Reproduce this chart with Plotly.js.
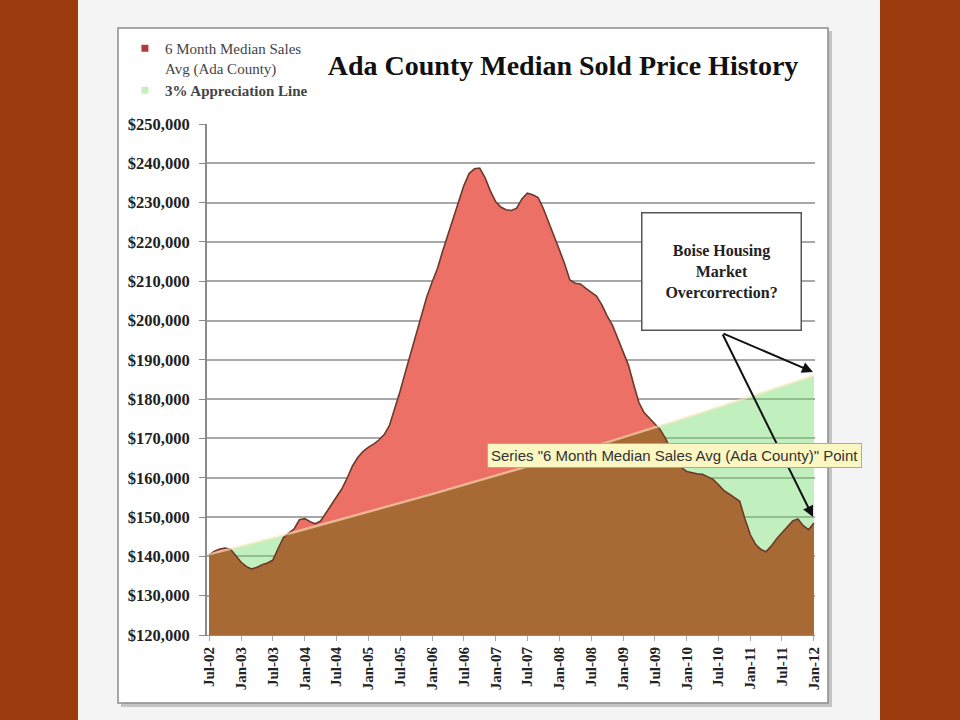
<!DOCTYPE html>
<html>
<head>
<meta charset="utf-8">
<script src="https://cdn.plot.ly/plotly-3.0.1.min.js"></script>
<style>
  html, body { margin: 0; padding: 0; background: #9b3a0c; }
  #chart { width: 960px; height: 720px; }
</style>
</head>
<body>
<div id="chart"></div>
<script>
// monthly series, Jul-02 .. Jan-12 (115 months)
var startYear = 2002, startMonth = 7, nMonths = 115;

var medianSales = [
  140400, 141300, 141900, 142100, 141800, 140200, 138500, 137400, 136800, 137200,
  137900, 138300, 139000, 142000, 144800, 145900, 147000, 149300, 149600, 148800,
  148300, 149000, 151000, 152800, 155000, 157200, 160000, 163000, 165200, 166700,
  167800, 168600, 169600, 171000, 173300, 177500, 182000, 187000, 191800, 196500,
  201300, 206000, 209800, 213300, 217500, 221600, 225600, 229800, 234200, 237400,
  238600, 238800, 236300, 233000, 230200, 228800, 228200, 228000, 228600, 231000,
  232400, 232000, 231300, 228500, 225000, 222000, 218000, 214300, 210300, 209500,
  209300, 208200, 207200, 206200, 204000, 201200, 198800, 195400, 192000, 188600,
  184000, 179200, 176600, 175200, 173800, 172300, 170000, 167200, 165000, 162600,
  161600, 161200, 161000, 160900, 160300, 159600, 158300, 156800, 155900, 155000,
  154000, 149500, 145500, 143000, 141800, 141200, 142600, 144500, 146000, 147600,
  149000, 149500, 147800, 146800, 148500
];

var appreciation = [
  140500, 140846, 141194, 141542, 141891, 142241, 142592, 142943, 143296, 143649, 144003, 144358,
  144715, 145072, 145430, 145788, 146148, 146508, 146869, 147232, 147595, 147959, 148324, 148689,
  149056, 149424, 149792, 150161, 150532, 150903, 151275, 151648, 152022, 152397, 152773, 153150,
  153528, 153907, 154286, 154667, 155048, 155431, 155814, 156198, 156583, 156969, 157357, 157745,
  158134, 158524, 158915, 159307, 159700, 160094, 160489, 160885, 161282, 161679, 162078, 162478,
  162878, 163280, 163682, 164086, 164491, 164897, 165303, 165711, 166120, 166529, 166940, 167352,
  167764, 168178, 168593, 169008, 169425, 169843, 170262, 170682, 171103, 171525, 171948, 172372,
  172797, 173223, 173650, 174079, 174508, 174938, 175370, 175802, 176236, 176671, 177106, 177543,
  177981, 178420, 178860, 179301, 179743, 180187, 180631, 181077, 181523, 181971, 182420, 182870,
  183320, 183772, 184226, 184680, 185135, 185592, 186049
];

var seriesNames = ['6 Month Median Sales<br>Avg (Ada County)', '<b>3% Appreciation Line</b>'];

var months = [];
for (var k = 0; k < nMonths; k++) {
  var m = startMonth - 1 + k;
  var yy = startYear + Math.floor(m / 12);
  var mm = (m % 12) + 1;
  months.push(yy + '-' + (mm < 10 ? '0' + mm : mm) + '-01');
}
// where both areas overlap Excel shows brown
var overlap = medianSales.map(function (v, k) { return Math.min(v, appreciation[k]); });

var serif = 'Liberation Serif, DejaVu Serif, serif';

var data = [
  {
    x: months, y: appreciation, type: 'scatter', mode: 'lines',
    fill: 'tozeroy', fillcolor: 'rgba(120,220,110,0.45)',
    line: {width: 0}, hoverinfo: 'skip', showlegend: false
  },
  {
    x: months, y: medianSales, type: 'scatter', mode: 'lines',
    fill: 'tozeroy', fillcolor: '#ec7066',
    line: {width: 0}, hoverinfo: 'skip', showlegend: false
  },
  {
    x: months, y: overlap, type: 'scatter', mode: 'lines',
    fill: 'tozeroy', fillcolor: '#a86a35',
    line: {width: 0}, hoverinfo: 'skip', showlegend: false
  },
  {
    x: months, y: medianSales, type: 'scatter', mode: 'lines',
    line: {color: '#6b3a2a', width: 1.6}, hoverinfo: 'skip', showlegend: false
  },
  {
    x: months, y: appreciation, type: 'scatter', mode: 'lines',
    line: {color: 'rgba(255,232,190,0.6)', width: 2.4}, hoverinfo: 'skip', showlegend: false
  },
  // legend entries
  {
    x: [null], y: [null], type: 'scatter', mode: 'markers', name: seriesNames[0],
    marker: {symbol: 'square', size: 7, color: '#b5383a'}, legendrank: 1
  },
  {
    x: [null], y: [null], type: 'scatter', mode: 'markers', name: seriesNames[1],
    marker: {symbol: 'square', size: 7, color: '#c6efc0'}, legendrank: 2
  }
];

var layout = {
  width: 960,
  height: 720,
  margin: {l: 207, r: 145, t: 124, b: 85},
  paper_bgcolor: '#9b3a0c',
  plot_bgcolor: 'white',
  title: {
    text: '<b>Ada County Median Sold Price History</b>',
    font: {family: serif, size: 28, color: '#111'},
    xref: 'container', x: 0.5865, xanchor: 'center',
    yref: 'container', y: 0.91, yanchor: 'middle'
  },
  showlegend: true,
  legend: {
    x: -0.135, xanchor: 'left', y: 1.18, yanchor: 'top',
    bgcolor: 'rgba(0,0,0,0)', valign: 'top', itemwidth: 30,
    tracegroupgap: 0,
    font: {family: serif, size: 15, color: '#444'}
  },
  xaxis: {
    type: 'date',
    range: ['2002-06-19', '2012-01-07'],
    tick0: '2002-07-01', dtick: 'M6', tickformat: '%b-%y',
    tickangle: -90,
    ticks: 'outside', ticklen: 5, tickcolor: '#aaaaaa',
    showgrid: false, zeroline: false,
    showline: true, linecolor: '#8a8a8a', linewidth: 1,
    tickfont: {family: serif, size: 15, weight: 700, color: '#222'}
  },
  yaxis: {
    range: [120000, 250000], dtick: 10000, tickformat: '$,.0f',
    gridcolor: '#a8a8a8', gridwidth: 2, zeroline: false,
    showline: true, linecolor: '#8a8a8a', linewidth: 2,
    ticks: 'outside', ticklen: 6, tickcolor: '#8a8a8a',
    ticklabelstandoff: 6,
    tickfont: {family: serif, size: 16.5, weight: 700, color: '#222'}
  },
  shapes: [
    {type: 'rect', xref: 'paper', yref: 'paper', layer: 'below',
     x0: -0.2122, x1: 1.1069, y0: -0.2, y1: 1.3,
     fillcolor: '#f4f4f4', line: {width: 0}},
    {type: 'rect', xref: 'paper', yref: 'paper', layer: 'below',
     x0: -0.1414, x1: 1.028, y0: -0.1409, y1: 1.182,
     fillcolor: '#c4c4c4', line: {width: 0}},
    {type: 'rect', xref: 'paper', yref: 'paper', layer: 'below',
     x0: -0.1464, x1: 1.0214, y0: -0.1331, y1: 1.1879,
     fillcolor: 'white', line: {color: '#8c8c8c', width: 1.5}}
  ],
  annotations: [
    {
      xref: 'paper', yref: 'paper', x: 0.847, y: 0.7104,
      xanchor: 'center', yanchor: 'middle', showarrow: false,
      text: '<b>Boise Housing<br>Market<br>Overcorrection?</b>',
      width: 156, height: 114, align: 'center', valign: 'middle',
      bgcolor: 'white', bordercolor: '#555', borderwidth: 1.5,
      font: {family: serif, size: 16, color: '#222'}
    },
    {
      xref: 'paper', yref: 'paper', x: 0.9967, y: 0.5147, ax: -91, ay: -39,
      text: '', showarrow: true, arrowhead: 2, arrowsize: 1.1, arrowwidth: 2,
      arrowcolor: '#111', standoff: 0
    },
    {
      xref: 'paper', yref: 'paper', x: 0.9967, y: 0.2309, ax: -91, ay: -184,
      text: '', showarrow: true, arrowhead: 2, arrowsize: 1.1, arrowwidth: 2,
      arrowcolor: '#111', standoff: 0
    },
    {
      xref: 'paper', yref: 'paper', x: 0.4605, y: 0.352,
      xanchor: 'left', yanchor: 'middle', showarrow: false,
      text: 'Series "6 Month Median Sales Avg (Ada County)" Point',
      bgcolor: '#fbf7c3', bordercolor: '#b5ad7a', borderwidth: 1, borderpad: 3,
      font: {family: 'Liberation Sans, Arial, sans-serif', size: 15, color: '#333'}
    }
  ]
};

Plotly.newPlot('chart', data, layout, {displayModeBar: false});
</script>
</body>
</html>
